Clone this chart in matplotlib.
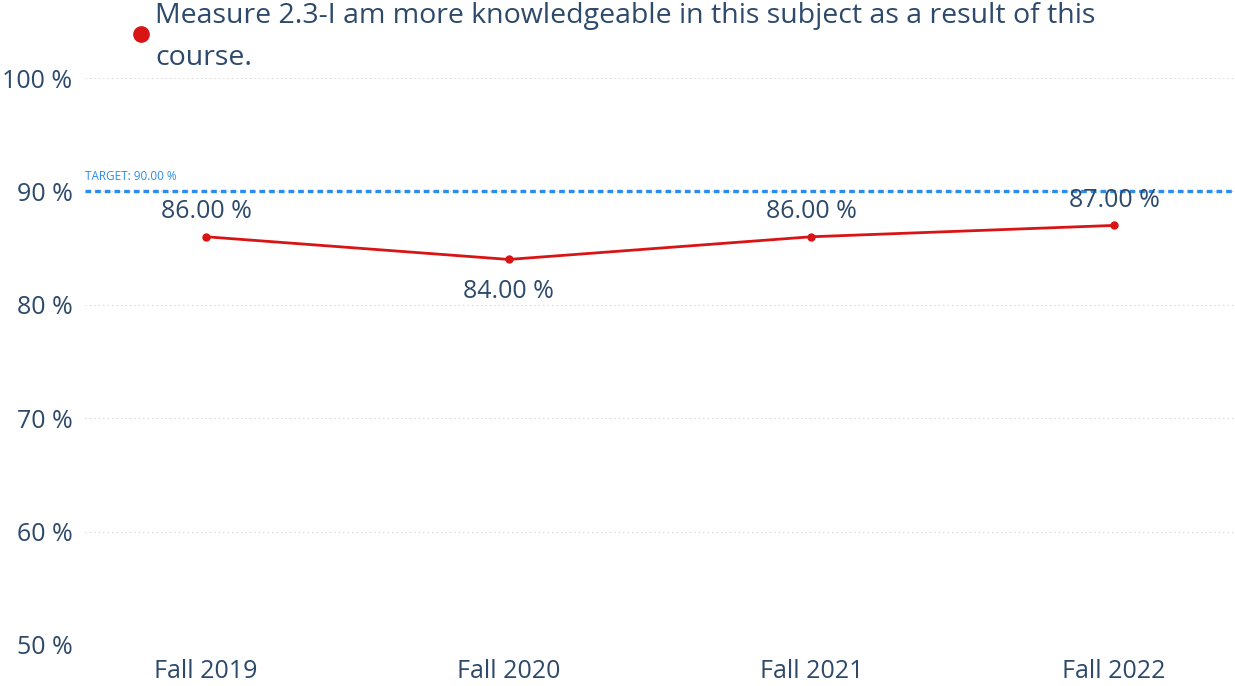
import matplotlib.pyplot as plt
import matplotlib.ticker as mticker

# chart data
terms = ["Fall 2019", "Fall 2020", "Fall 2021", "Fall 2022"]
scores = [86.0, 84.0, 86.0, 87.0]
target = 90.0
y_ticks = [50, 60, 70, 80, 90, 100]
series_name = "Measure 2.3-I am more knowledgeable in this subject as a result of this\ncourse."

TEXT = "#2d4a6b"
RED = "#d91414"
BLUE = "#2b8cf0"

plt.rcParams['font.family'] = ['Open Sans', 'DejaVu Sans']

fig = plt.figure(figsize=(12.35, 6.86), dpi=100)
ax = fig.add_axes([85 / 1235, 41 / 686, 1150 / 1235, 567 / 686])

x = list(range(len(terms)))
ax.plot(x, scores, color=RED, lw=2, marker="o", ms=5, zorder=3)

for i, v in enumerate(scores):
    below = i > 0 and v < scores[i - 1]
    ax.annotate(f"{v:.2f} %", (i, v), xytext=(0, -23 if below else 18),
                textcoords="offset points", ha="center", va="center",
                fontsize=18, color=TEXT)

ax.axhline(target, color=BLUE, lw=2.4, ls=(0, (1.7, 1.2)), zorder=2)
ax.text(0, target + 0.75, f"TARGET: {target:.2f} %", transform=ax.get_yaxis_transform(),
        fontsize=8.5, color=BLUE, ha="left", va="bottom")

ax.set_xlim(-0.4, 3.4)
ax.set_ylim(50, 100)
ax.set_yticks(y_ticks)
ax.yaxis.set_major_formatter(mticker.FuncFormatter(lambda v, p: f"{v:.0f} %"))
ax.set_xticks(x)
ax.set_xticklabels(terms)
ax.grid(axis="y", color="#cfcfcf", ls=(0, (1, 3)), lw=0.8)
ax.tick_params(length=0, labelsize=18, labelcolor=TEXT)
ax.tick_params(axis="x", pad=10)
ax.tick_params(axis="y", pad=9)
for s in ax.spines.values():
    s.set_visible(False)

# legend entry drawn at the top, partly clipped like the original
fig.text(155 / 1235, 1 - 37 / 686, series_name, fontsize=20.5, color=TEXT,
         ha="left", va="center", linespacing=1.62)
fig.lines.append(plt.Line2D([141 / 1235], [1 - 34 / 686], transform=fig.transFigure,
                            marker="o", ms=11, color=RED, lw=0))

fig.savefig("out.png", dpi=100)
